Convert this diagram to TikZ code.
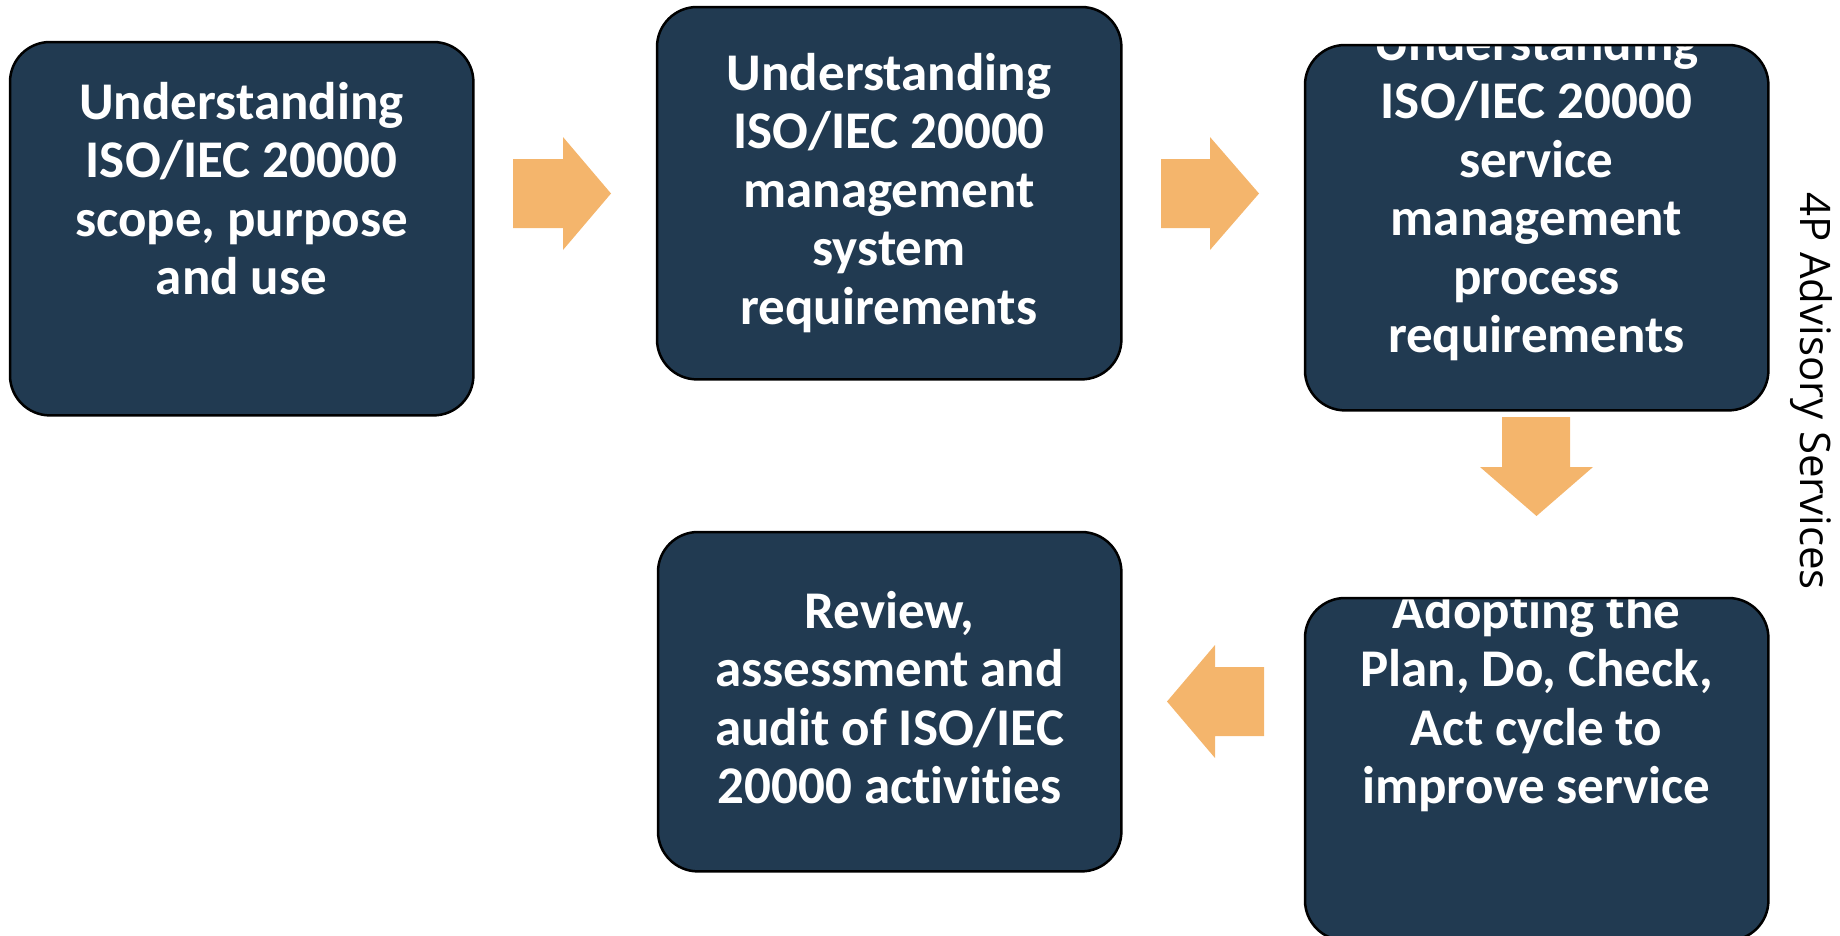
\documentclass[tikz,border=0pt]{standalone}
\usepackage{fontspec}
\setmainfont{Carlito}[Ligatures=NoCommon]
\newfontfamily\sidefont{Open Sans}
\definecolor{navy}{HTML}{213A51}
\definecolor{orangearrow}{HTML}{F4B56C}
\begin{document}
\begin{tikzpicture}[x=1pt,y=-1pt,
  stepfill/.style={fill=navy, draw=none, rounded corners=40pt, inner sep=0pt, anchor=north west},
  stepline/.style={draw=black, line width=2.5pt, rounded corners=40pt},
  boxtext/.style={text=white, font=\bfseries\fontsize{53}{58.5}\selectfont, align=center, inner sep=0pt, anchor=north},
  blockarrow/.style={fill=orangearrow, draw=none}]
\useasboundingbox (0,0) rectangle (1840,935);
\clip (0,0) rectangle (1840,935);

% boxes
\node[stepfill, minimum width=463pt, minimum height=373pt] (b1) at (10,42) {};
\node[stepfill, minimum width=464pt, minimum height=372pt] (b2) at (657,7) {};
\node[stepfill, minimum width=463pt, minimum height=365pt] (b3) at (1305,45) {};
\node[stepfill, minimum width=463pt, minimum height=342pt] (b4) at (1305,598) {};
\node[stepfill, minimum width=463pt, minimum height=339pt] (b5) at (658,532) {};

% texts, clipped to their boxes
\begin{scope}
\clip[rounded corners=40pt] (b1.north west) rectangle (b1.south east);
\node[boxtext] (t1) at (241.5,77) {\rule{0pt}{42pt}Understanding\\ISO/IEC 20000\\scope, purpose\\and use};
\end{scope}
\begin{scope}
\clip[rounded corners=40pt] (b2.north west) rectangle (b2.south east);
\node[boxtext] (t2) at (889,48) {\rule{0pt}{42pt}Understanding\\ISO/IEC 20000\\management\\system\\requirements};
\end{scope}
\begin{scope}
\clip[rounded corners=40pt] (b3.north west) rectangle (b3.south east);
\node[boxtext] (t3) at (1536.5,18) {\rule{0pt}{42pt}Understanding\\ISO/IEC 20000\\service\\management\\process\\requirements};
\end{scope}
\begin{scope}
\clip[rounded corners=40pt] (b4.north west) rectangle (b4.south east);
\node[boxtext] (t4) at (1536.5,586) {\rule{0pt}{42pt}Adopting the\\Plan, Do, Check,\\Act cycle to\\improve service};
\end{scope}
\begin{scope}
\clip[rounded corners=40pt] (b5.north west) rectangle (b5.south east);
\node[boxtext] (t5) at (889.5,586) {\rule{0pt}{42pt}Review,\\assessment and\\audit of ISO/IEC\\20000 activities};
\end{scope}

% borders
\foreach \b in {b1,b2,b3,b4,b5}
  \draw[stepline] (\b.north west) rectangle (\b.south east);

% block arrows
\fill[blockarrow] (513,159) -- (563,159) -- (563,137) -- (611,193.5) -- (563,250) -- (563,228) -- (513,228) -- cycle;
\fill[blockarrow] (1161,159) -- (1210,159) -- (1210,137) -- (1259,193.5) -- (1210,250) -- (1210,228) -- (1161,228) -- cycle;
\fill[blockarrow] (1502,417) -- (1570,417) -- (1570,467) -- (1593,467) -- (1536.5,516) -- (1480,467) -- (1502,467) -- cycle;
\fill[blockarrow] (1264,667) -- (1215,667) -- (1215,645) -- (1167,701.5) -- (1215,758) -- (1215,736) -- (1264,736) -- cycle;

% side label
\node[font=\sidefont\fontsize{42}{50}\selectfont, rotate=-90, anchor=base west, inner sep=0pt] (side) at (1800,192) {4P Advisory Services};
\end{tikzpicture}
\end{document}
